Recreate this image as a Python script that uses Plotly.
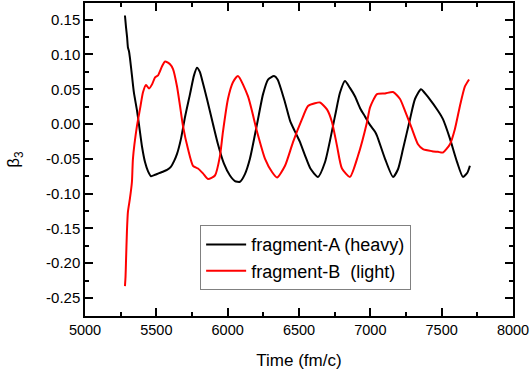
import plotly.graph_objects as go

# fragment-A (heavy)
time_a = [5280, 5287, 5295, 5301, 5308, 5315, 5329, 5343, 5364, 5378, 5400, 5421, 5442, 5463,
          5491, 5515, 5540, 5575, 5600, 5625, 5645, 5673, 5701, 5736, 5764, 5785, 5805, 5820,
          5855, 5897, 5932, 5974, 6016, 6051, 6086, 6121, 6156, 6206, 6248, 6283, 6325, 6350,
          6402, 6437, 6472, 6505, 6542, 6580, 6633, 6682, 6752, 6787, 6822, 6857, 6892, 6930,
          6962, 7000, 7033, 7047, 7103, 7159, 7194, 7229, 7278, 7313, 7355, 7380, 7404, 7474,
          7509, 7558, 7607, 7649, 7680, 7698]
beta_a = [0.156, 0.140, 0.125, 0.110, 0.105, 0.095, 0.070, 0.045, 0.020, 0.000, -0.033, -0.055,
          -0.068, -0.075, -0.073, -0.071, -0.069, -0.066, -0.062, -0.053, -0.043, -0.021, 0.010,
          0.043, 0.070, 0.081, 0.075, 0.064, 0.036, 0.000, -0.029, -0.057, -0.074, -0.082, -0.083,
          -0.072, -0.050, 0.000, 0.043, 0.064, 0.069, 0.064, 0.031, 0.005, -0.011, -0.025, -0.045,
          -0.064, -0.076, -0.055, 0.011, 0.045, 0.062, 0.052, 0.040, 0.022, 0.011, -0.002, -0.011,
          -0.017, -0.050, -0.076, -0.065, -0.036, 0.007, 0.036, 0.050, 0.045, 0.039, 0.019, 0.007,
          -0.021, -0.054, -0.076, -0.070, -0.060]

# fragment-B (light)
time_b = [5280, 5284, 5287, 5294, 5301, 5315, 5329, 5336, 5364, 5385, 5407, 5428, 5449, 5470,
          5491, 5512, 5540, 5561, 5596, 5617, 5645, 5666, 5687, 5722, 5757, 5792, 5827, 5862,
          5911, 5946, 5967, 6002, 6037, 6072, 6142, 6206, 6262, 6311, 6346, 6402, 6458, 6521,
          6563, 6612, 6647, 6696, 6731, 6766, 6801, 6857, 6913, 6977, 6998, 7047, 7103, 7159,
          7208, 7243, 7292, 7334, 7369, 7432, 7474, 7509, 7558, 7593, 7628, 7663, 7692]
beta_b = [-0.233, -0.220, -0.200, -0.154, -0.126, -0.107, -0.083, -0.050, -0.003, 0.021, 0.046,
          0.056, 0.051, 0.057, 0.067, 0.070, 0.083, 0.090, 0.086, 0.079, 0.054, 0.026, -0.003,
          -0.036, -0.060, -0.064, -0.071, -0.079, -0.074, -0.046, -0.011, 0.036, 0.060, 0.069,
          0.040, -0.011, -0.050, -0.069, -0.077, -0.060, -0.026, 0.007, 0.026, 0.030, 0.031,
          0.021, 0.003, -0.031, -0.064, -0.076, -0.046, 0.003, 0.024, 0.043, 0.044, 0.046, 0.036,
          0.019, -0.007, -0.029, -0.036, -0.039, -0.040, -0.041, -0.029, -0.007, 0.026, 0.054,
          0.064]

x_ticks = [5000, 5500, 6000, 6500, 7000, 7500, 8000]
y_ticks = [-0.25, -0.20, -0.15, -0.10, -0.05, 0.00, 0.05, 0.10, 0.15]
y_tick_labels = ["-0.25", "-0.20", "-0.15", "-0.10", "-0.05", "0.00", "0.05", "0.10", "0.15"]

font_family = "Liberation Sans, Arial, sans-serif"

fig = go.Figure()
fig.add_trace(go.Scatter(x=time_a, y=beta_a, mode="lines", name="fragment-A (heavy)",
                         line=dict(color="black", width=2, shape="spline", smoothing=0.6)))
fig.add_trace(go.Scatter(x=time_b, y=beta_b, mode="lines", name="fragment-B  (light)",
                         line=dict(color="#ff0000", width=2, shape="spline", smoothing=0.6)))

axis_common = dict(showline=True, linecolor="black", linewidth=1.5, mirror="allticks",
                   ticks="inside", ticklen=8, tickwidth=1.5, tickcolor="black",
                   showgrid=False, zeroline=False, automargin=False)

fig.update_xaxes(range=[5000, 8000], tickvals=x_ticks,
                 tickfont=dict(family=font_family, size=14.5, color="black"),
                 minor=dict(dtick=250, ticks="inside", ticklen=4, tickwidth=1.5,
                            tickcolor="black", showgrid=False),
                 title=dict(text="Time (fm/c)", font=dict(family=font_family, size=17, color="black"),
                            standoff=17),
                 **axis_common)
fig.update_yaxes(range=[-0.276, 0.174], tickvals=y_ticks, ticktext=y_tick_labels,
                 tickfont=dict(family=font_family, size=15, color="black"),
                 minor=dict(dtick=0.025, tick0=0, ticks="inside", ticklen=4, tickwidth=1.5,
                            tickcolor="black", showgrid=False),
                 title=dict(text="β<sub>3</sub>", font=dict(family=font_family, size=17, color="black"),
                            standoff=22),
                 **axis_common)

fig.update_layout(
    width=532, height=374,
    margin=dict(l=85, r=19, t=3, b=58, autoexpand=False),
    paper_bgcolor="white", plot_bgcolor="white",
    font=dict(family=font_family, color="black"),
    legend=dict(x=0.269, y=0.29, xanchor="left", yanchor="top",
                bordercolor="#808080", borderwidth=1, bgcolor="white",
                font=dict(family=font_family, size=18, color="black"),
                tracegroupgap=0, itemwidth=40),
    showlegend=True,
)

fig.write_html("out.html",
               config={"displayModeBar": False},
               post_script="document.body.style.margin='0';document.body.style.padding='0';")
